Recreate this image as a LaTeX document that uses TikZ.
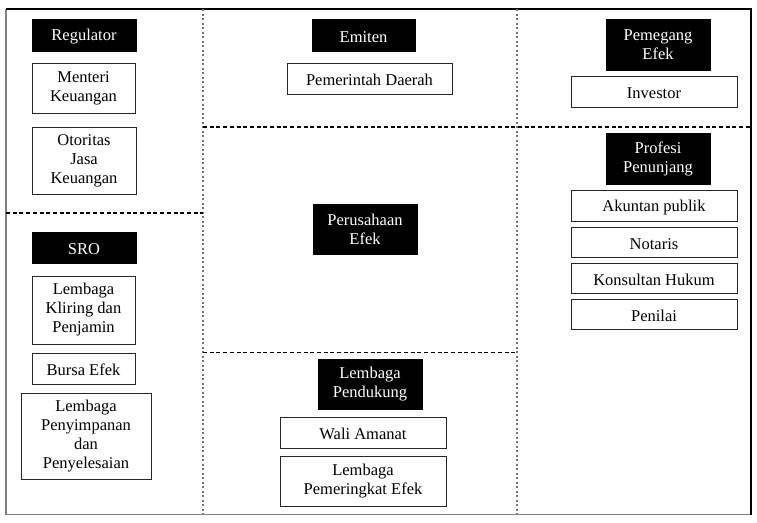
\documentclass[tikz,border=0pt]{standalone}
\usepackage{fontspec}
\setmainfont{Liberation Serif}
\usepackage{tikz}
\tikzset{head/.style={draw=black,fill=black,text=white,align=center,inner sep=0pt,execute at begin node=\rule{0pt}{15pt}},
 item/.style={draw=black!85,fill=white,align=center,inner sep=0pt,line width=0.9pt,execute at begin node=\rule{0pt}{15pt}},
 divider/.style={dash pattern=on 4pt off 2.7pt,line width=1.2pt},
 vdivider/.style={dash pattern=on 2pt off 2.5pt,line width=1.3pt,black!55},
 }

\begin{document}
\begin{tikzpicture}[x=1pt,y=-1pt,font=\fontsize{16.5}{19}\selectfont]
        \useasboundingbox (0,0) rectangle (757,522);
        \draw[black!50, line width=1.2pt] (6,9) -- (6,514.5) -- (751,514.5);
        \draw[line width=1.3pt] (6,9) -- (751,9) -- (751,514.5);

        \draw[vdivider] (203,9) -- (203,514);
        \draw[vdivider] (517,9) -- (517,514);
        \draw[divider] (6,213) -- (203,213);
        \draw[divider] (203,127) -- (751,127);
        \draw[divider] (203,352.5) -- (517,352.5);

        \node[head, minimum width=104pt, minimum height=32pt] (regulator) at (84,35) {Regulator};
        \node[item, minimum width=103pt, minimum height=50pt] (menteri) at (83.5,88) {Menteri\\Keuangan};
        \node[item, minimum width=104pt, minimum height=67pt] (ojk) at (84,160.5) {Otoritas\\Jasa\\Keuangan};

        \node[head, minimum width=104pt, minimum height=31pt] (sro) at (84,247.5) {SRO};
        \node[item, minimum width=103pt, minimum height=68pt] (kliring) at (83.5,310) {Lembaga\\Kliring dan\\Penjamin};
        \node[item, minimum width=103pt, minimum height=31pt] (bursa) at (83.5,368.5) {Bursa Efek};
        \node[item, minimum width=130pt, minimum height=86pt] (penyimpanan) at (86,436) {Lembaga\\Penyimpanan\\dan\\Penyelesaian};

        \node[head, minimum width=103pt, minimum height=32pt] (emiten) at (363.5,35) {Emiten};
        \node[item, minimum width=165pt, minimum height=31pt] (pemda) at (369.5,78.5) {Pemerintah Daerah};
        \node[head, minimum width=104pt, minimum height=50pt] (perusahaan) at (365,229) {Perusahaan\\Efek};

        \node[head, minimum width=104pt, minimum height=50pt] (pendukung) at (370,384) {Lembaga\\Pendukung};
        \node[item, minimum width=166pt, minimum height=31pt] (wali) at (363,432.5) {Wali Amanat};
        \node[item, minimum width=166pt, minimum height=50pt] (pemeringkat) at (363,481) {Lembaga\\Pemeringkat Efek};

        \node[head, minimum width=104pt, minimum height=51pt] (pemegang) at (658,44.5) {Pemegang\\Efek};
        \node[item, minimum width=166pt, minimum height=31pt] (investor) at (654,91.5) {Investor};

        \node[head, minimum width=104pt, minimum height=51pt] (profesi) at (658,158.5) {Profesi\\Penunjang};
        \node[item, minimum width=166pt, minimum height=31pt] (akuntan) at (654,205.5) {Akuntan publik};
        \node[item, minimum width=166pt, minimum height=30pt] (notaris) at (654,242) {Notaris};
        \node[item, minimum width=166pt, minimum height=30pt] (konsultan) at (654,278) {Konsultan Hukum};
        \node[item, minimum width=166pt, minimum height=30pt] (penilai) at (654,314) {Penilai};
    \end{tikzpicture}
\end{document}
